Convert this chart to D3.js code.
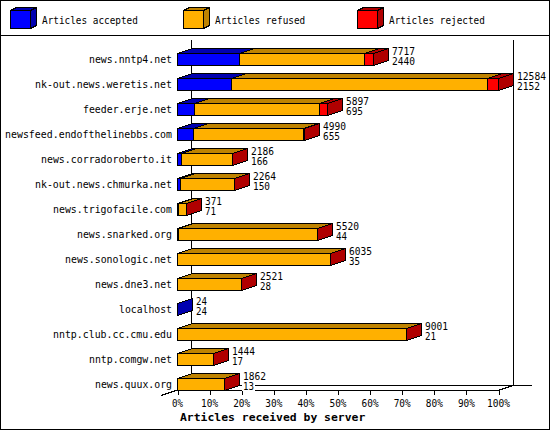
<!DOCTYPE html>
<html>
<head>
<meta charset="utf-8">
<script src="https://cdn.jsdelivr.net/npm/d3@7"></script>
<style>
  html, body { margin: 0; padding: 0; background: #fff; }
  svg { display: block; }
  text { font-family: "DejaVu Sans Mono", "Liberation Mono", monospace; font-size: 11px; fill: #000; }
</style>
</head>
<body>
<svg id="chart" width="550" height="430"></svg>
<script>
// Articles received by server (stacked 3D bars, percent of biggest feed)

const hosts = [
  "news.nntp4.net", "nk-out.news.weretis.net", "feeder.erje.net",
  "newsfeed.endofthelinebbs.com", "news.corradoroberto.it", "nk-out.news.chmurka.net",
  "news.trigofacile.com", "news.snarked.org", "news.sonologic.net", "news.dne3.net",
  "localhost", "nntp.club.cc.cmu.edu", "nntp.comgw.net", "news.quux.org"
];
const accepted = [2440, 2152, 695, 655, 166, 150, 71, 44, 35, 28, 24, 21, 17, 13];
const refused  = [4897, 10012, 4902, 4323, 2015, 2108, 297, 5468, 5990, 2487, 0, 8968, 1423, 1844];
const rejected = [380, 420, 300, 12, 5, 6, 3, 8, 10, 6, 0, 12, 4, 5];
const seriesNames = ["Articles accepted", "Articles refused", "Articles rejected"];
const pctTicks = [0, 10, 20, 30, 40, 50, 60, 70, 80, 90, 100];

const colors = [
  { front: "#0000ff", dark: "#0000b0" },
  { front: "#ffb000", dark: "#bf8300" },
  { front: "#ff0000", dark: "#b00000" }
];

const svg = d3.select("#chart");
const W = 550, H = 430;
const DX = 15, DY = -5;   // 3d depth offset
const BAR_H = 12;

// mono text squeezed to the fixed pitch of the original bitmap font
function fit(sel, pitch) {
  sel.each(function () {
    const t = d3.select(this);
    const n = t.text().length;
    t.attr("textLength", n * pitch - 1).attr("lengthAdjust", "spacingAndGlyphs");
  });
  return sel;
}

svg.attr("shape-rendering", "crispEdges");

// frame + legend separator
svg.append("rect").attr("x", 0.5).attr("y", 0.5).attr("width", W - 1).attr("height", H - 1)
  .attr("fill", "#fff").attr("stroke", "#000");
svg.append("line").attr("x1", 0).attr("x2", W).attr("y1", 35.5).attr("y2", 35.5).attr("stroke", "#000");

// legend
const legend = svg.append("g").selectAll("g").data(seriesNames).join("g")
  .attr("transform", (d, i) => `translate(${[10, 183, 357][i]},0)`);
legend.append("polygon")
  .attr("points", "0.5,10.5 6.5,7.5 26.5,7.5 20.5,10.5")
  .attr("fill", (d, i) => colors[i].dark).attr("stroke", "#000");
legend.append("polygon")
  .attr("points", "20.5,10.5 26.5,7.5 26.5,25.5 20.5,28.5")
  .attr("fill", (d, i) => colors[i].dark).attr("stroke", "#000");
legend.append("rect").attr("x", 0.5).attr("y", 10.5).attr("width", 20).attr("height", 18)
  .attr("fill", (d, i) => colors[i].front).attr("stroke", "#000");
fit(legend.append("text").attr("x", 32).attr("y", 24).text(d => d), 5.7);

// scales
const totals = hosts.map((h, i) => accepted[i] + refused[i] + rejected[i]);
const maxTotal = d3.max(totals);
const x = d3.scaleLinear().domain([0, 100]).range([177, 498]);
const pct = v => v / maxTotal * 100;
const px = v => Math.floor(x(pct(v))) + 0.5;
const y = d3.scalePoint().domain(hosts).range([59, 384]);

const x0 = x(0), x100 = x(100), yFloor = 390;

// walls and floor
const grid = svg.append("g").attr("stroke", "#000").attr("fill", "none");
grid.append("line").attr("x1", x0 + DX - 0.5).attr("x2", x0 + DX - 0.5).attr("y1", 40).attr("y2", yFloor + DY);
grid.append("line").attr("x1", x100 + DX + 0.5).attr("x2", x100 + DX + 0.5).attr("y1", 40).attr("y2", yFloor + DY);
grid.append("line").attr("x1", x0 + DX).attr("x2", 532).attr("y1", yFloor + DY + 0.5).attr("y2", yFloor + DY + 0.5);
grid.append("line").attr("x1", x0 - 1).attr("x2", x100).attr("y1", yFloor + 0.5).attr("y2", yFloor + 0.5);
grid.append("line").attr("x1", x0 - 1).attr("y1", yFloor + 0.5).attr("x2", x0 - 16).attr("y2", yFloor + 5.5);
grid.append("line").attr("x1", x100).attr("y1", yFloor + 0.5).attr("x2", x100 + DX).attr("y2", yFloor + DY + 0.5);

// x axis
const xAxis = d3.axisBottom(x).tickValues(pctTicks).tickSize(5).tickSizeOuter(0)
  .tickFormat(d => d + "%");
const ax = svg.append("g").attr("transform", `translate(0,${yFloor})`).call(xAxis);
ax.select(".domain").remove();
ax.selectAll(".tick line").attr("stroke", "#000").attr("transform", "translate(0.5,0)");
ax.selectAll(".tick text").attr("font-family", null).attr("font-size", null)
  .attr("y", 17).attr("dy", null).attr("fill", "#000");
fit(ax.selectAll(".tick text"), 6);

fit(svg.append("text").attr("x", 180).attr("y", 421).attr("font-weight", "bold")
  .text("Articles received by server"), 6.9);

// category labels
fit(svg.append("g").selectAll("text").data(hosts).join("text")
  .attr("x", 172).attr("y", d => y(d) + 4).attr("text-anchor", "end").text(d => d), 6);

// bars
const rows = svg.append("g").selectAll("g").data(hosts).join("g");
rows.each(function (h, i) {
  const g = d3.select(this);
  const vals = [accepted[i], refused[i], rejected[i]];
  const top = Math.round(y(h) - BAR_H / 2) + 0.5;
  let cum = 0, last = -1;
  vals.forEach((v, k) => {
    if (v <= 0) return;
    const a = px(cum);
    const b = px(cum + v);
    cum += v;
    last = k;
    g.append("polygon")
      .attr("points", [[a, top], [b, top], [b + DX, top + DY], [a + DX, top + DY]].join(" "))
      .attr("fill", colors[k].dark).attr("stroke", "#000");
    g.append("rect").attr("x", a).attr("y", top).attr("width", b - a).attr("height", BAR_H)
      .attr("fill", colors[k].front).attr("stroke", "#000");
  });
  const e = px(cum);
  g.append("polygon")
    .attr("points", [[e, top], [e + DX, top + DY], [e + DX, top + DY + BAR_H], [e, top + BAR_H]].join(" "))
    .attr("fill", colors[last].dark).attr("stroke", "#000");

  // value labels: total on top, accepted below
  const tx = Math.floor(x(pct(cum))) + DX + 4;
  const cy = y(h);
  [[String(cum), cy - 8], [String(accepted[i]), cy + 2]].forEach(([s, c]) => {
    g.append("rect").attr("x", tx - 1).attr("y", c - 4).attr("width", s.length * 6 + 1)
      .attr("height", 9).attr("fill", "#fff");
    fit(g.append("text").attr("x", tx).attr("y", c + 4).text(s), 6);
  });
});
</script>
</body>
</html>
